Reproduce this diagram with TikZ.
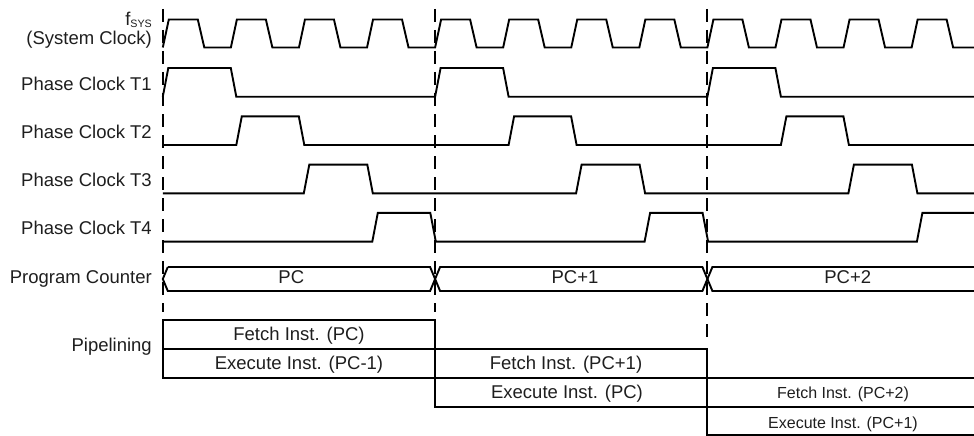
\documentclass[tikz,border=0pt]{standalone}
\usepackage{fontspec}
\setmainfont{Liberation Sans}
\definecolor{txt}{HTML}{1E1E1E}
\begin{document}
\begin{tikzpicture}[x=1pt,y=-1pt,
  wave/.style={line width=1.9pt, line join=miter, black},
  guide/.style={line width=2.1pt, dash pattern=on 13pt off 8pt, black},
  boxline/.style={line width=1.9pt, black},
  lbl/.style={anchor=base east, inner sep=0pt, text=txt, font=\fontsize{18.5}{22}\selectfont},
  cell/.style={anchor=base, inner sep=0pt, text=txt, font=\fontsize{18.5}{22}\selectfont},
  smallcell/.style={anchor=base, inner sep=0pt, text=txt, font=\fontsize{16}{19}\selectfont}]
\useasboundingbox (0,0) rectangle (974,436);
\clip (0,0) rectangle (974,436);
\def\cA{162.8}\def\W{272.3}\def\P{68.075}
% guide lines
\coordinate (g1t) at (\cA,9);            \coordinate (g1b) at (\cA,312);
\coordinate (g2t) at ({\cA+\W},9);       \coordinate (g2b) at ({\cA+\W},312);
\coordinate (g3t) at ({\cA+2*\W},9);     \coordinate (g3b) at ({\cA+2*\W},338);
\draw[guide] (g1t) -- (g1b);
\draw[guide] (g2t) -- (g2b);
\draw[guide] (g3t) -- (g3b);
% system clock
\draw[wave] (\cA,47.5) \foreach \n in {0,...,11}{ -- ({\cA+\n*\P},47.5) -- ({\cA+\n*\P+6},19.5) -- ({\cA+\n*\P+35},19.5) -- ({\cA+\n*\P+41.5},47.5)} -- (990,47.5);
% phase clocks
\foreach \k/\rr/\ff in {0/0/68,1/73.5/136,2/141/204.5,3/209.5/267.5}{
  \pgfmathsetmacro\hi{68+\k*48.3}
  \pgfmathsetmacro\lo{\hi+28.7}
  \draw[wave] (\cA,\lo) \foreach \c in {0,1,2}{ -- ({\cA+\c*\W+\rr},\lo) -- ({\cA+\c*\W+\rr+5.5},\hi) -- ({\cA+\c*\W+\ff},\hi) -- ({\cA+\c*\W+\ff+5.5},\lo)} -- (990,\lo);
}
% program counter bus
\draw[wave] (167.8,267) -- (\cA,279) -- (167.8,291) -- (430.1,291) -- (440.1,267) -- (702.4,267) -- (712.4,291) -- (990,291);
\draw[wave] (167.8,267) -- (430.1,267) -- (440.1,291) -- (702.4,291) -- (712.4,267) -- (990,267);
\node[cell] (pc0) at (291.3,283.5) {PC};
\node[cell] (pc1) at (575,283.5) {PC+1};
\node[cell] (pc2) at (847.7,283.5) {PC+2};
% labels
\node[lbl] (fsys) at (152,26) {f\raisebox{-1.5pt}{\fontsize{10.7}{12}\selectfont SYS}};
\node[lbl] (sysclk) at (152,45) {(System Clock)};
\node[lbl] (t1) at (152,90) {Phase Clock T1};
\node[lbl] (t2) at (152,138.3) {Phase Clock T2};
\node[lbl] (t3) at (152,186.6) {Phase Clock T3};
\node[lbl] (t4) at (152,234.9) {Phase Clock T4};
\node[lbl] (pcl) at (152,283) {Program Counter};
\node[lbl] (pipe) at (152,351.5) {Pipelining};
% pipelining boxes
\draw[boxline] (\cA,320) rectangle (435.1,378);
\draw[boxline] (\cA,349) -- (435.1,349);
\draw[boxline] (435.1,349) rectangle (707.4,407);
\draw[boxline] (435.1,378) -- (707.4,378);
\draw[boxline] (707.4,378) rectangle (990,434.8);
\draw[boxline] (707.4,407) -- (990,407);
\node[cell] (f0) at (299,340) {Fetch Inst. (PC)};
\node[cell] (e0) at (299,369) {Execute Inst. (PC-1)};
\node[cell] (f1) at (566,369) {Fetch Inst. (PC+1)};
\node[cell] (e1) at (567,398) {Execute Inst. (PC)};
\node[smallcell] (f2) at (843,398.3) {Fetch Inst. (PC+2)};
\node[smallcell] (e2) at (843,428) {Execute Inst. (PC+1)};
\end{tikzpicture}
\end{document}
